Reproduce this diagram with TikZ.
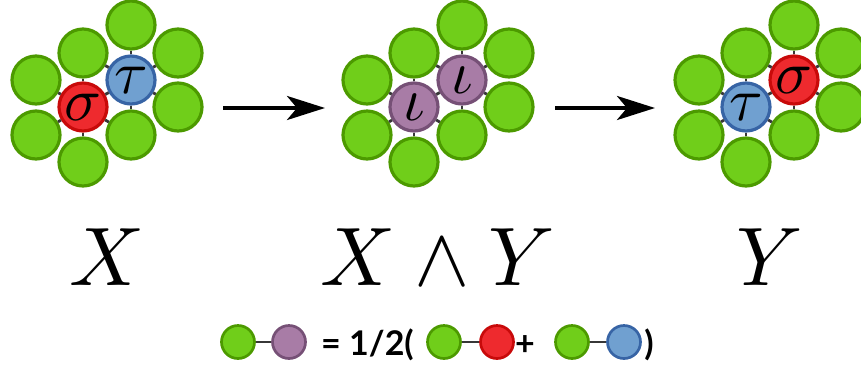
\documentclass[tikz,border=0pt]{standalone}
\usepackage{fontspec}
\newfontfamily\keyfont{Lato}
\usetikzlibrary{arrows.meta}

\definecolor{sitegreen}{RGB}{112,206,26}
\definecolor{sitegreenD}{RGB}{76,154,0}
\definecolor{sred}{RGB}{238,42,46}
\definecolor{sredD}{RGB}{200,10,10}
\definecolor{sblue}{RGB}{112,160,208}
\definecolor{sblueD}{RGB}{55,100,165}
\definecolor{spurple}{RGB}{168,124,166}
\definecolor{spurpleD}{RGB}{118,80,118}
\definecolor{bondgray}{RGB}{55,55,55}

\newcommand{\sitesym}[1]{\scalebox{6.1}{$#1$}}
\newcommand{\biglab}[1]{\scalebox{8.3}{$#1$}}

\tikzset{
  site/.style={circle, draw=#1D, fill=#1, line width=3.2pt, minimum size=48pt, inner sep=0pt},
  dot/.style={circle, draw=#1D, fill=#1, line width=2.7pt, minimum size=33pt, inner sep=0pt},
  bond/.style={draw=bondgray, line width=2.8pt},
  flow/.style={line width=4pt, -{Stealth[length=38pt,width=24pt,inset=10pt]}},
  biglabel/.style={anchor=base, inner sep=0pt},
  keytext/.style={anchor=base, inner sep=0pt, font=\keyfont\bfseries\fontsize{34}{38}\selectfont}
}

\begin{document}
\begin{tikzpicture}[x=1pt, y=-1pt]
  \useasboundingbox (0,0) rectangle (861,368);
  \foreach \k/\dx/\ca/\la/\cb/\lb in {l/0/sred/\sigma/sblue/\tau, m/331/spurple/\iota/spurple/\iota, r/663/sblue/\tau/sred/\sigma}{
    \begin{scope}[shift={(83+\dx,107)}]
      \node[site=\ca] (\k-A) at (0,0) {\sitesym{\la}};
      \node[site=\cb] (\k-B) at (48,-27) {\sitesym{\lb}};
      \foreach \n/\x/\y in {1/48/-82, 2/0/-54, 3/-47/-27, 4/-47/28, 5/0/55, 6/48/28, 7/95/-54, 8/95/0}
        \node[site=sitegreen] (\k-g\n) at (\x,\y) {};
      \foreach \n in {2,3,4,5,6} \draw[bond] (\k-A) -- (\k-g\n);
      \foreach \n in {1,2,6,7,8} \draw[bond] (\k-B) -- (\k-g\n);
      \draw[bond] (\k-A) -- (\k-B);
    \end{scope}
  }

  \coordinate (a1s) at (223,108);
  \coordinate (a1e) at (325,108);
  \coordinate (a2s) at (555,108);
  \coordinate (a2e) at (655,108);
  \draw[flow] (a1s) -- (a1e);
  \draw[flow] (a2s) -- (a2e);

  \node[biglabel] (xlab) at (107,285) {\biglab{X}};
  \node[biglabel] (xylab) at (438,285) {\biglab{X \wedge Y}};
  \node[biglabel] (ylab) at (770,285) {\biglab{Y}};

  \node[dot=sitegreen] (k-g1) at (238,342) {};
  \node[dot=spurple] (k-p) at (289,342) {};
  \node[keytext, anchor=base west] (k-eq) at (321,355) {= 1/2(};
  \node[dot=sitegreen] (k-g2) at (444,342) {};
  \node[dot=sred] (k-r) at (497,342) {};
  \node[keytext] (k-plus) at (525,355) {+};
  \node[dot=sitegreen] (k-g3) at (572,342) {};
  \node[dot=sblue] (k-b) at (624,342) {};
  \node[keytext] (k-close) at (649,355) {)};
  \draw[bond] (k-g1) -- (k-p);
  \draw[bond] (k-g2) -- (k-r);
  \draw[bond] (k-g3) -- (k-b);
\end{tikzpicture}
\end{document}
